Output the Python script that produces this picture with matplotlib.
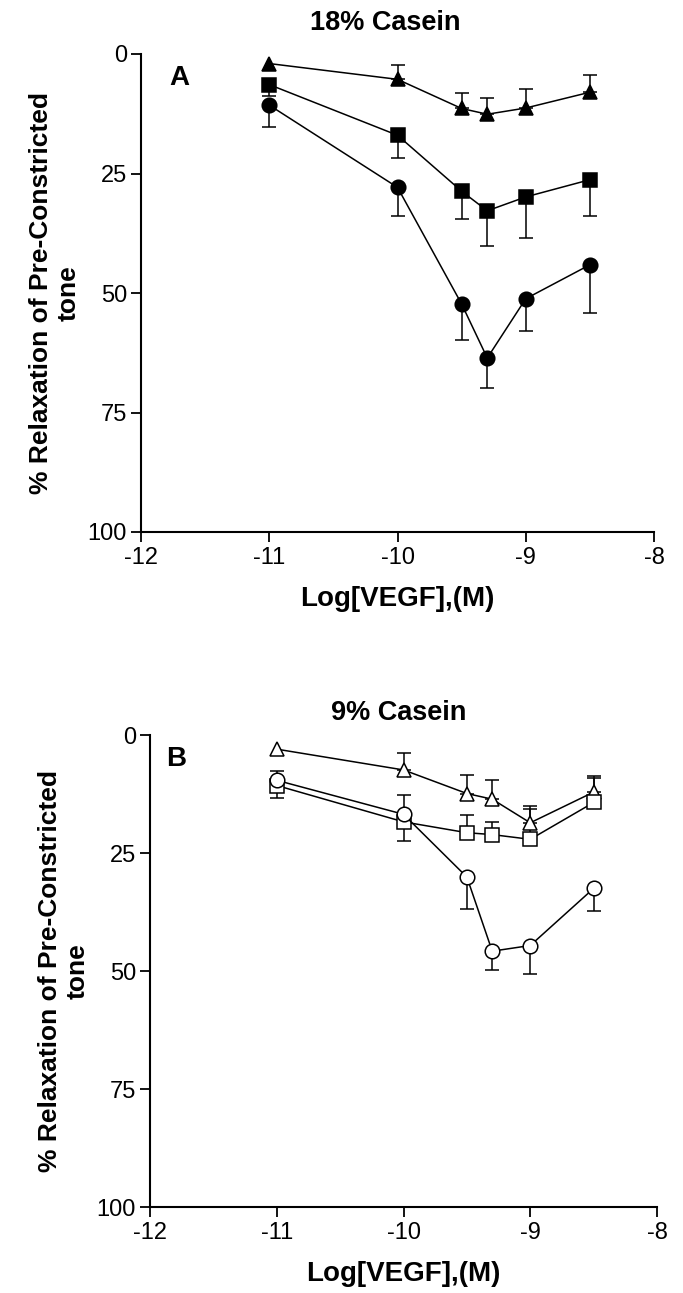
import numpy as np
import matplotlib.pyplot as plt

plt.rcParams['font.family'] = ['Liberation Sans', 'DejaVu Sans']
plt.rcParams['axes.unicode_minus'] = False

# log[VEGF] (M)
log_vegf = [-11, -10, -9.5, -9.3, -9, -8.5]

# panel A, 18% casein
a_tri = [2.0, 5.3, 11.4, 12.6, 11.3, 8.0]
a_tri_err = [0, 3.0, 3.3, 3.4, 3.9, 3.7]
a_sq = [6.4, 17.0, 28.7, 32.8, 29.9, 26.3]
a_sq_err = [2.4, 4.7, 5.8, 7.4, 8.5, 7.6]
a_circ = [10.7, 27.9, 52.3, 63.6, 51.2, 44.1]
a_circ_err = [4.6, 5.9, 7.5, 6.3, 6.8, 10.1]

# panel B, 9% casein
b_tri = [3.0, 7.4, 12.4, 13.6, 18.6, 12.1]
b_tri_err = [0, 3.5, 4.0, 4.0, 3.6, 3.5]
b_sq = [10.7, 18.4, 20.7, 21.1, 22.1, 14.3]
b_sq_lo = [0, 0, 3.8, 2.7, 6.4, 5.2]   # toward 0
b_sq_hi = [2.7, 4.1, 0, 0, 0, 0]       # away from 0
b_circ = [9.6, 16.8, 30.1, 45.8, 44.6, 32.5]
b_circ_lo = [2.0, 4.1, 0, 0, 0, 0]
b_circ_hi = [0, 0, 6.7, 4.0, 6.0, 4.8]

yticks = [0, 25, 50, 75, 100]
xticks = [-12, -11, -10, -9, -8]


def series(ax, y, lo, hi, marker, filled):
    x = np.array(log_vegf)
    y = np.array(y)
    lo = np.array(lo)
    hi = np.array(hi)
    m = (lo > 0) | (hi > 0)
    ax.errorbar(x[m], y[m], yerr=[lo[m], hi[m]], fmt='none', ecolor='black',
                elinewidth=1.1, capsize=5, capthick=1.1, zorder=2)
    ax.plot(x, y, color='black', lw=1.1, marker=marker, ms=10.5,
            mfc='black' if filled else 'white', mec='black', mew=1.1, zorder=3)


def style(ax, title, letter, lx, tpad, tx):
    ax.set_xlim(-12, -8)
    ax.set_ylim(100, 0)
    ax.set_xticks(xticks)
    ax.set_yticks(yticks)
    for s in ['top', 'right']:
        ax.spines[s].set_visible(False)
    for s in ['left', 'bottom']:
        ax.spines[s].set_linewidth(1.5)
    ax.tick_params(direction='out', length=7, width=1.3, labelsize=17)
    ax.tick_params(axis='y', pad=3)
    ax.tick_params(axis='x', pad=4)
    ax.set_title(title, fontsize=19.5, fontweight='bold', pad=tpad, x=tx)
    ax.set_xlabel('Log[VEGF],(M)', fontsize=20, fontweight='bold', labelpad=12)
    ax.set_ylabel('% Relaxation of Pre-Constricted\ntone', fontsize=19,
                  fontweight='bold', labelpad=5)
    ax.text(lx, 5, letter, fontsize=20, fontweight='bold', ha='center', va='center')


fig = plt.figure(figsize=(6.83, 12.93), dpi=100)
axA = fig.add_axes([141 / 683, 1 - 532 / 1293, 513 / 683, 478 / 1293])
axB = fig.add_axes([150 / 683, 1 - 1207 / 1293, 507 / 683, 472 / 1293])

series(axA, a_tri, a_tri_err, [0] * 6, '^', True)
series(axA, a_sq, [0] * 6, a_sq_err, 's', True)
series(axA, a_circ, [0] * 6, a_circ_err, 'o', True)
style(axA, '18% Casein', 'A', -11.70, 17, 0.476)

series(axB, b_tri, b_tri_err, [0] * 6, '^', False)
series(axB, b_sq, b_sq_lo, b_sq_hi, 's', False)
series(axB, b_circ, b_circ_lo, b_circ_hi, 'o', False)
style(axB, '9% Casein', 'B', -11.79, 11, 0.49)

fig.savefig('out.png', dpi=100)
